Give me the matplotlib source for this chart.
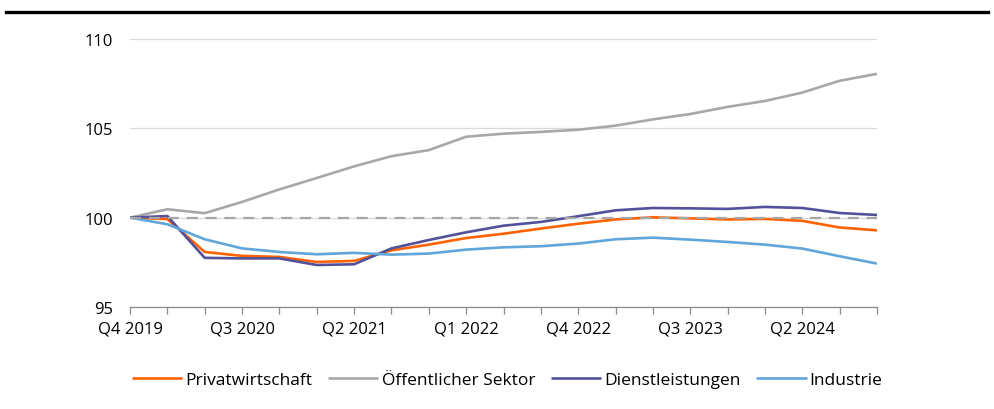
import matplotlib.pyplot as plt
import matplotlib.lines as mlines
import numpy as np

plt.rcParams["font.family"] = ["Open Sans", "DejaVu Sans"]

# quarterly index, Q4 2019 = 100
quarters = ["Q4 2019", "Q1 2020", "Q2 2020", "Q3 2020", "Q4 2020",
            "Q1 2021", "Q2 2021", "Q3 2021", "Q4 2021", "Q1 2022",
            "Q2 2022", "Q3 2022", "Q4 2022", "Q1 2023", "Q2 2023",
            "Q3 2023", "Q4 2023", "Q1 2024", "Q2 2024", "Q3 2024", "Q4 2024"]

privat = [100.0, 99.92, 98.08, 97.86, 97.80, 97.52, 97.58, 98.17, 98.49, 98.86,
          99.10, 99.39, 99.66, 99.90, 100.02, 99.96, 99.90, 99.93, 99.82, 99.45, 99.29]
oeffentlich = [100.0, 100.47, 100.25, 100.88, 101.58, 102.22, 102.87, 103.44, 103.78, 104.53,
               104.70, 104.80, 104.92, 105.15, 105.50, 105.80, 106.20, 106.53, 107.00, 107.66, 108.05]
dienst = [100.0, 100.09, 97.75, 97.72, 97.72, 97.35, 97.39, 98.28, 98.75, 99.18,
          99.55, 99.76, 100.08, 100.41, 100.54, 100.52, 100.49, 100.60, 100.54, 100.26, 100.15]
industrie = [100.0, 99.63, 98.79, 98.28, 98.08, 97.95, 98.03, 97.93, 97.99, 98.21,
             98.34, 98.40, 98.55, 98.79, 98.88, 98.77, 98.64, 98.49, 98.27, 97.84, 97.43]
baseline = [100.0] * len(quarters)

series = [("Privatwirtschaft", privat, "#FF6200"),
          ("Öffentlicher Sektor", oeffentlich, "#A8A8A8"),
          ("Dienstleistungen", dienst, "#525199"),
          ("Industrie", industrie, "#60A6DA")]

fig = plt.figure(figsize=(9.94, 4.10), dpi=100)
ax = fig.add_axes([0.1308, 0.2488, 0.7515, 0.6537])

x = np.arange(len(quarters))
for label, vals, col in series:
    ax.plot(x, vals, color=col, lw=1.9, label=label, solid_capstyle="butt")
ax.plot(x, baseline, color="#A6A6A6", lw=1.6, ls=(0, (5, 3.5)))

ax.set_xlim(0, len(quarters) - 1)
ax.set_ylim(95, 110)
ax.set_yticks([95, 100, 105, 110])
ax.set_xticks(x, minor=True)
ax.set_xticks(x[::3])
ax.set_xticklabels(quarters[::3])

ax.grid(axis="y", color="#D9D9D9", lw=0.9)
ax.set_axisbelow(True)
for s in ["top", "right", "left"]:
    ax.spines[s].set_visible(False)
ax.spines["bottom"].set_color("#8C8C8C")
ax.spines["bottom"].set_linewidth(0.9)

ax.tick_params(axis="y", length=0, pad=12, labelsize=12)
ax.tick_params(axis="x", which="both", length=5, color="#8C8C8C", width=0.9,
               labelsize=12, pad=5)

ax.legend(loc="upper center", bbox_to_anchor=(0.505, -0.185), ncol=4, frameon=False,
          fontsize=12.5, handlelength=2.9, handletextpad=0.18, columnspacing=0.9)

# black rule across the top
fig.add_artist(mlines.Line2D([0.006, 0.994], [0.969, 0.969], color="black", lw=2.4,
                             transform=fig.transFigure))

fig.savefig("out.png", dpi=100)
